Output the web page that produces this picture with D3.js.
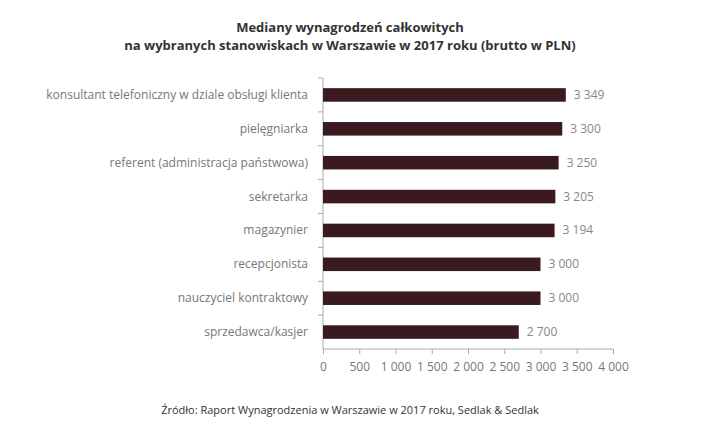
<!DOCTYPE html>
<html><head><meta charset="utf-8">
<script src="https://cdn.jsdelivr.net/npm/d3@7"></script>
<style>body{margin:0;background:#fff}text{font-family:"Open Sans",sans-serif}</style>
</head><body>
<script>
// data
var categories = ["konsultant telefoniczny w dziale obsługi klienta", "pielęgniarka", "referent (administracja państwowa)", "sekretarka", "magazynier", "recepcjonista", "nauczyciel kontraktowy", "sprzedawca/kasjer"];
var values = [3349, 3300, 3250, 3205, 3194, 3000, 3000, 2700];
var tickValues = [0, 500, 1000, 1500, 2000, 2500, 3000, 3500, 4000];

var svg = d3.select("body").append("svg").attr("width", 710).attr("height", 428);
var fmt = function (v) { return d3.format(",")(v).replace(/,/g, " "); };

var x = d3.scaleLinear().domain([0, 4000]).range([323, 613]);
var y = d3.scaleBand().domain(categories).range([78, 349]).paddingInner(0.6).paddingOuter(0.3);
var yb = d3.scaleBand().domain(categories).range([78, 349]);

svg.append("text").attr("x", 350).attr("y", 32).attr("text-anchor", "middle")
    .style("font-size", "13px").style("font-weight", "bold").attr("fill", "#333")
    .text("Mediany wynagrodzeń całkowitych");
svg.append("text").attr("x", 350).attr("y", 50).attr("text-anchor", "middle")
    .style("font-size", "13px").style("font-weight", "bold").attr("fill", "#333")
    .text("na wybranych stanowiskach w Warszawie w 2017 roku (brutto w PLN)");

var g = svg.append("g");
// y axis line and boundary ticks
g.append("line").attr("x1", 323).attr("x2", 323).attr("y1", 78).attr("y2", 349).attr("stroke", "#aaa");
categories.forEach(function (c) {
    g.append("line").attr("x1", 318).attr("x2", 323).attr("y1", yb(c)).attr("y2", yb(c)).attr("stroke", "#aaa");
});

g.selectAll("rect").data(values).enter().append("rect")
    .attr("x", x(0)).attr("y", function (d, i) { return y(categories[i]); })
    .attr("width", function (d) { return x(d) - x(0); })
    .attr("height", y.bandwidth()).attr("fill", "#3a1a1f");

g.selectAll(".val").data(values).enter().append("text")
    .attr("x", function (d) { return x(d) + 8; })
    .attr("y", function (d, i) { return y(categories[i]) + y.bandwidth() / 2 + 4; })
    .style("font-size", "12px").attr("fill", "#888").text(fmt);

g.selectAll(".cat").data(categories).enter().append("text")
    .attr("x", 308).attr("y", function (d) { return yb(d) + yb.bandwidth() / 2 + 4; })
    .attr("text-anchor", "end").style("font-size", "12px").attr("fill", "#777").text(function (d) { return d; });

var xa = svg.append("g").attr("transform", "translate(0,349)")
    .call(d3.axisBottom(x).tickValues(tickValues).tickSize(5).tickFormat(fmt));
xa.selectAll("path,line").attr("stroke", "#aaa");
xa.select(".domain").attr("d", "M323,0H613");
xa.selectAll("text").attr("fill", "#777").style("font-size", "12px").attr("dy", "1.2em");

svg.append("text").attr("x", 350).attr("y", 414).attr("text-anchor", "middle")
    .style("font-size", "11px").attr("fill", "#333")
    .text("Źródło: Raport Wynagrodzenia w Warszawie w 2017 roku, Sedlak & Sedlak");
</script>
</body></html>
